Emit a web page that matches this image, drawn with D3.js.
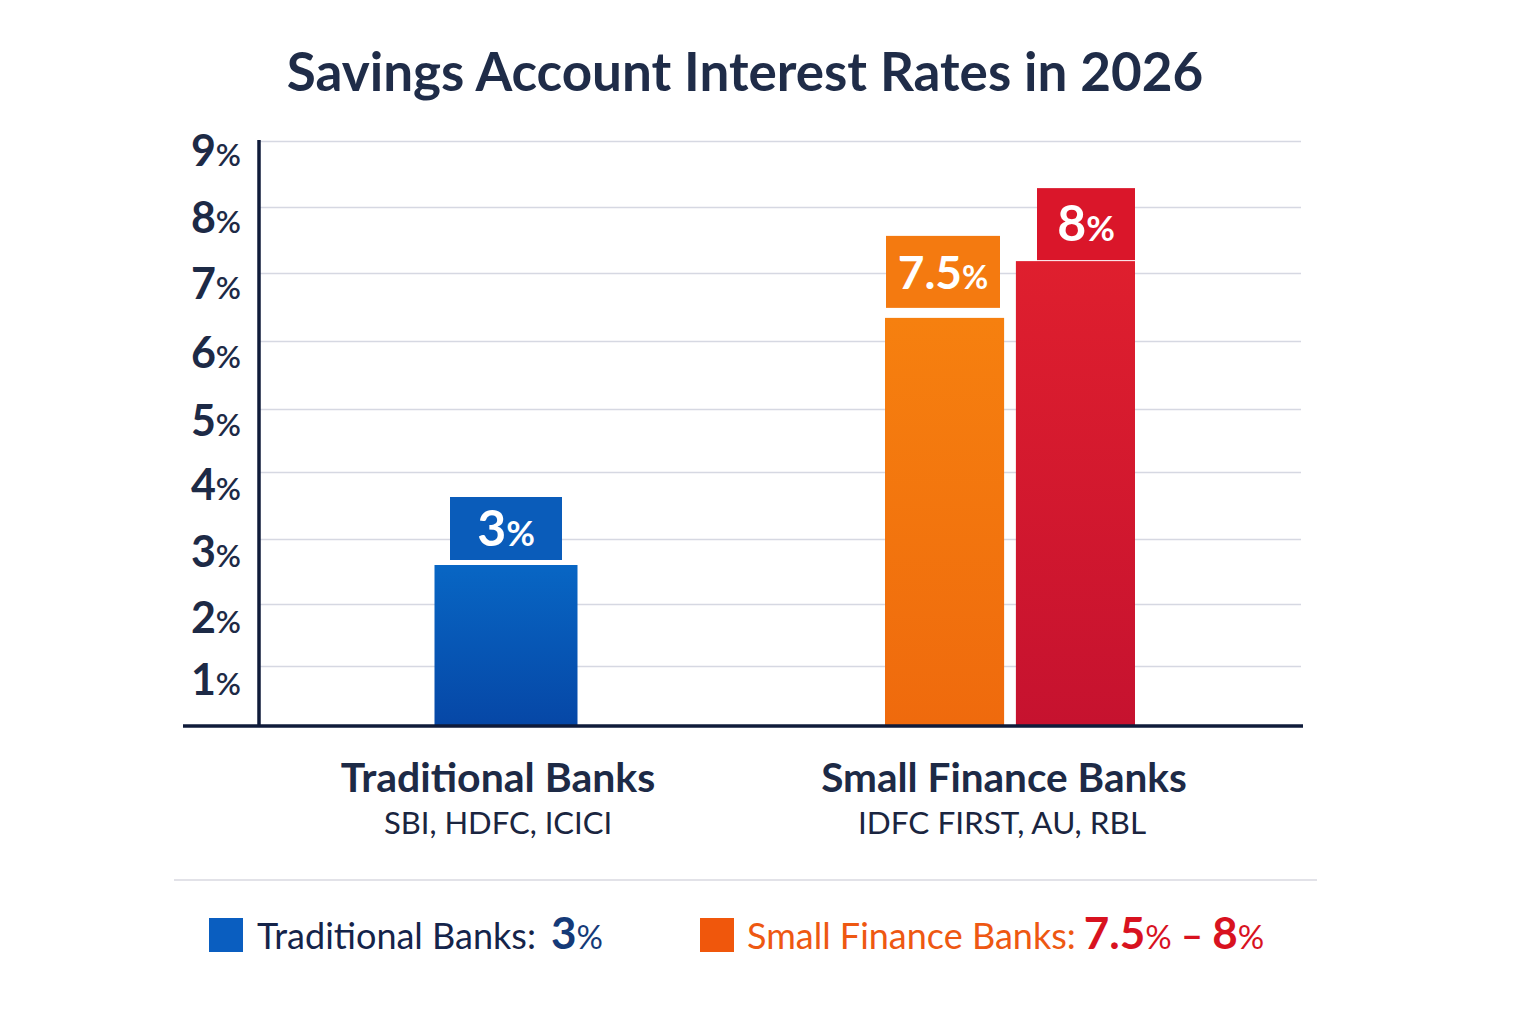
<!DOCTYPE html>
<html>
<head>
<meta charset="utf-8">
<script src="https://cdn.jsdelivr.net/npm/d3@7"></script>
<style>
  html, body { margin: 0; padding: 0; background: #ffffff; }
  svg { display: block; font-family: Lato, "Open Sans", sans-serif; }
</style>
</head>
<body>
<svg id="chart" width="1536" height="1024"></svg>
<script>
// ---------- data ----------
const title = "Savings Account Interest Rates in 2026";
const categories = ["Traditional Banks", "Small Finance Banks"];
const categoryBanks = ["SBI, HDFC, ICICI", "IDFC FIRST, AU, RBL"];
const barKeys = ["traditional", "sfbLow", "sfbHigh"];
const barGroups = ["Traditional Banks", "Small Finance Banks", "Small Finance Banks"];
const barRates = [3, 7.5, 8];            // labelled rates (%)
const barLevels = [2.6, 6.34, 7.18];     // drawn bar heights (%)
const yTicks = [1, 2, 3, 4, 5, 6, 7, 8, 9];
const legendItems = ["Traditional Banks: ", "Small Finance Banks: "];

// ---------- styles ----------
const navy = "#1d2a46";
const barTop = { traditional: "#0866c4", sfbLow: "#f6800f", sfbHigh: "#df1f2e" };
const barBottom = { traditional: "#0647a6", sfbLow: "#ef6a0d", sfbHigh: "#c6122f" };
const boxFill = { traditional: "#0a5cba", sfbLow: "#f47a10", sfbHigh: "#da162a" };

const svg = d3.select("#chart");
const defs = svg.append("defs");
barKeys.forEach(k => {
  const g = defs.append("linearGradient").attr("id", "grad-" + k)
    .attr("x1", 0).attr("y1", 0).attr("x2", 0).attr("y2", 1);
  g.append("stop").attr("offset", "0%").attr("stop-color", barTop[k]);
  g.append("stop").attr("offset", "100%").attr("stop-color", barBottom[k]);
});

// ---------- scales ----------
// piecewise linear scale: the reference's gridlines are not evenly spaced
const y = d3.scaleLinear()
  .domain([0, 1, 2, 3, 4, 5, 6, 7, 8, 9])
  .range([726, 666, 604, 539, 472, 409, 341, 273, 207, 141]);
const x = d3.scalePoint().domain(categories).range([506, 1010]);
const inner = d3.scaleBand().domain(["sfbLow", "sfbHigh"]).range([-125, 125]).paddingInner(0.09);
const plotLeft = 259, plotRight = 1301;

// ---------- title ----------
svg.append("text")
  .attr("x", 745).attr("y", 91)
  .attr("text-anchor", "middle")
  .attr("font-size", 53).attr("font-weight", 700)
  .attr("fill", "#1f2c48")
  .text(title);

// ---------- gridlines ----------
const yAxis = d3.axisLeft(y).tickValues(yTicks).tickSize(-(plotRight - plotLeft)).tickFormat("");
const gAxis = svg.append("g").attr("transform", `translate(${plotLeft},0)`).call(yAxis);
gAxis.select(".domain").remove();
gAxis.selectAll(".tick line").attr("stroke", "#d6d8e2").attr("stroke-width", 1.6);

// tick labels (number bold + smaller %)
const tickLabels = svg.append("g").selectAll("text").data(yTicks).join("text")
  .attr("x", 241).attr("y", d => y(d) + 25 + (9 - d) * 0.5)
  .attr("text-anchor", "end")
  .attr("fill", navy);
tickLabels.append("tspan").attr("font-size", 43).attr("font-weight", 700).text(d => d);
tickLabels.append("tspan").attr("font-size", 31).attr("font-weight", 600).text("%");

// ---------- bars ----------
const bars = barKeys.map((k, i) => ({ key: k, group: barGroups[i], rate: barRates[i], level: barLevels[i] }));
function barX(d) {
  if (d.key === "traditional") return x(d.group) - 71.5;
  return x(d.group) + inner(d.key);
}
function barW(d) { return d.key === "traditional" ? 143 : inner.bandwidth(); }

svg.append("g").selectAll("rect").data(bars).join("rect")
  .attr("x", barX).attr("width", barW)
  .attr("y", d => y(d.level)).attr("height", d => y(0) - y(d.level))
  .attr("fill", d => `url(#grad-${d.key})`);

// value boxes above bars
const boxW = { traditional: 112, sfbLow: 114, sfbHigh: 98 };
const boxH = { traditional: 63, sfbLow: 72, sfbHigh: 72 };
const boxGap = { traditional: 5, sfbLow: 10, sfbHigh: 1 };
const boxAlign = { traditional: "center", sfbLow: "left", sfbHigh: "right" };
function boxX(d) {
  const bx = barX(d), bw = barW(d);
  if (boxAlign[d.key] === "center") return bx + (bw - boxW[d.key]) / 2;
  if (boxAlign[d.key] === "left") return bx + 1;
  return bx + bw - boxW[d.key];
}
const boxes = svg.append("g").selectAll("g").data(bars).join("g");
boxes.append("rect")
  .attr("x", boxX).attr("width", d => boxW[d.key])
  .attr("y", d => y(d.level) - boxGap[d.key] - boxH[d.key])
  .attr("height", d => boxH[d.key])
  .attr("fill", d => boxFill[d.key]);
const boxText = boxes.append("text")
  .attr("x", d => boxX(d) + boxW[d.key] / 2)
  .attr("y", d => y(d.level) - boxGap[d.key] - boxH[d.key] / 2 + 17)
  .attr("text-anchor", "middle").attr("fill", "#ffffff");
boxText.append("tspan").attr("font-size", d => d.key === "sfbLow" ? 46 : 50).attr("font-weight", 700).text(d => d.rate);
boxText.append("tspan").attr("font-size", d => d.key === "sfbLow" ? 32 : 35).attr("font-weight", 700).text("%");

// ---------- baseline + y axis line ----------
svg.append("line").attr("x1", plotLeft).attr("x2", plotLeft).attr("y1", y(9) - 1).attr("y2", y(0))
  .attr("stroke", "#0f1b3a").attr("stroke-width", 3.5);
svg.append("line").attr("x1", 183).attr("x2", 1303).attr("y1", y(0)).attr("y2", y(0))
  .attr("stroke", "#0f1b3a").attr("stroke-width", 3.5);

// ---------- category labels ----------
const catG = svg.append("g").selectAll("g").data(categories).join("g");
catG.append("text")
  .attr("x", (d, i) => x(d) - (i === 0 ? 8 : 6)).attr("y", 792)
  .attr("text-anchor", "middle").attr("font-size", (d, i) => i === 0 ? 41 : 40.5).attr("font-weight", 700)
  .attr("fill", navy).text(d => d);
catG.append("text")
  .attr("x", (d, i) => x(d) - 8).attr("y", 834)
  .attr("text-anchor", "middle").attr("font-size", (d, i) => i === 0 ? 31 : 31.5).attr("font-weight", 400)
  .attr("fill", "#1a2540").text((d, i) => categoryBanks[i]);

// ---------- separator ----------
svg.append("line").attr("x1", 174).attr("x2", 1317).attr("y1", 880).attr("y2", 880)
  .attr("stroke", "#d8d9e0").attr("stroke-width", 1.6);

// ---------- legend ----------
svg.append("rect").attr("x", 209).attr("y", 918).attr("width", 34).attr("height", 34).attr("fill", "#0a5ec0");
const l1 = svg.append("text").attr("x", 257).attr("y", 949).attr("font-size", 36);
l1.append("tspan").attr("fill", "#15244a").text(legendItems[0].trim());
l1.append("tspan").attr("fill", "#153a78").attr("font-weight", 700).attr("font-size", 44).attr("dx", 15).text(barRates[0]);
l1.append("tspan").attr("fill", "#153a78").attr("font-size", 33).text("%");

svg.append("rect").attr("x", 700).attr("y", 918).attr("width", 34).attr("height", 34).attr("fill", "#f0570c");
const l2 = svg.append("text").attr("x", 747).attr("y", 949).attr("font-size", 36);
l2.append("tspan").attr("fill", "#ee5812").text(legendItems[1].trim());
l2.append("tspan").attr("fill", "#d8121f").attr("font-weight", 700).attr("font-size", 44).attr("dx", 8).text(barRates[1]);
l2.append("tspan").attr("fill", "#d8121f").attr("font-size", 33).text("%");
l2.append("tspan").attr("fill", "#d8121f").attr("font-weight", 700).attr("font-size", 38).text(" – ");
l2.append("tspan").attr("fill", "#d8121f").attr("font-weight", 700).attr("font-size", 44).text(barRates[2]);
l2.append("tspan").attr("fill", "#d8121f").attr("font-size", 33).text("%");
</script>
</body>
</html>
